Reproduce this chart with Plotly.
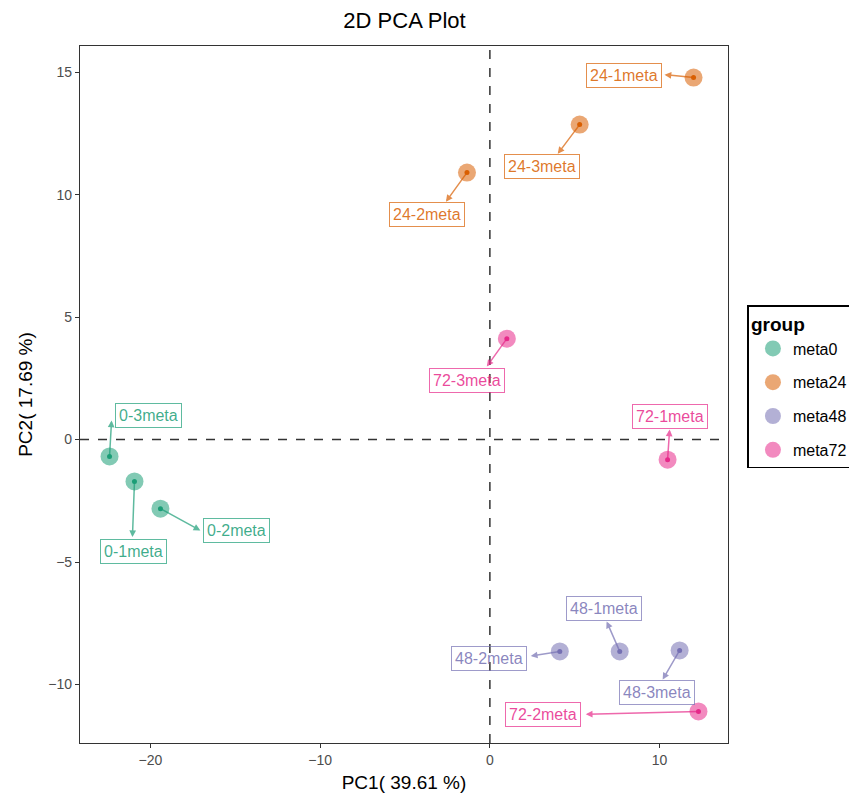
import plotly.graph_objects as go

# ---- data ----
samples = ["0-1meta", "0-2meta", "0-3meta",
           "24-1meta", "24-2meta", "24-3meta",
           "48-1meta", "48-2meta", "48-3meta",
           "72-1meta", "72-2meta", "72-3meta"]
groups = ["meta0", "meta0", "meta0",
          "meta24", "meta24", "meta24",
          "meta48", "meta48", "meta48",
          "meta72", "meta72", "meta72"]
pc1 = [-20.94, -19.41, -22.41,
       12.00, -1.35, 5.29,
       7.65, 4.12, 11.18,
       10.47, 12.29, 1.00]
pc2 = [-1.71, -2.82, -0.69,
       14.78, 10.90, 12.86,
       -8.65, -8.65, -8.61,
       -0.82, -11.10, 4.12]
group_order = ["meta0", "meta24", "meta48", "meta72"]

# repelled label positions (data units)
label_x = [-21.0, -14.94, -20.12,
           7.88, -3.71, 3.06,
           6.71, -0.06, 9.82,
           10.59, 3.12, -1.35]
label_y = [-4.57, -3.71, 0.98,
           14.86, 9.18, 11.14,
           -6.90, -8.94, -10.33,
           0.94, -11.22, 2.41]
# where each repel segment meets its label box (data units)
seg_end_x = [-21.06, -17.06, -22.29,
             10.29, -2.59, 4.00,
             6.88, 2.41, 10.18,
             10.59, 5.65, -0.18]
seg_end_y = [-3.98, -3.71, 0.78,
             14.90, 9.71, 11.67,
             -7.43, -8.84, -9.80,
             0.41, -11.22, 2.98]

# ---- styles ----
colors = {"meta0": (27, 158, 119), "meta24": (217, 95, 2),
          "meta48": (117, 112, 179), "meta72": (231, 41, 138)}


def rgba(c, a):
    return "rgba(%d,%d,%d,%s)" % (c[0], c[1], c[2], a)


FONT = "Liberation Sans, Arial, sans-serif"
W, H = 849, 790  # page body has an 8px margin

fig = go.Figure()

for g in group_order:
    idx = [i for i, gg in enumerate(groups) if gg == g]
    c = colors[g]
    # translucent outer disc (legend)
    fig.add_trace(go.Scatter(
        x=[pc1[i] for i in idx], y=[pc2[i] for i in idx],
        mode="markers", name=g, legendgroup=g,
        marker=dict(size=18, color=rgba(c, 0.55), line=dict(width=0)),
        hoverinfo="skip"))
    # solid center dot
    fig.add_trace(go.Scatter(
        x=[pc1[i] for i in idx], y=[pc2[i] for i in idx],
        mode="markers", name=g, legendgroup=g, showlegend=False,
        marker=dict(size=5, color=rgba(c, 1), line=dict(width=0)),
        text=[samples[i] for i in idx], hoverinfo="text"))

# segments from point to label (arrowhead at the label end)
for i, s in enumerate(samples):
    c = colors[groups[i]]
    fig.add_annotation(
        x=seg_end_x[i], y=seg_end_y[i], ax=pc1[i], ay=pc2[i],
        xref="x", yref="y", axref="x", ayref="y",
        text=" ", font=dict(size=1), showarrow=True,
        arrowhead=2, arrowsize=0.9, arrowwidth=1.5,
        arrowcolor=rgba(c, 0.7), standoff=0,
        bgcolor="rgba(0,0,0,0)", borderwidth=0, borderpad=0)

# label boxes
for i, s in enumerate(samples):
    c = colors[groups[i]]
    fig.add_annotation(
        x=label_x[i], y=label_y[i], xref="x", yref="y",
        text=s, showarrow=False,
        font=dict(family=FONT, size=16, color=rgba(c, 0.85)),
        bgcolor="rgba(255,255,255,0)",
        bordercolor=rgba(c, 0.7), borderwidth=1, borderpad=3)

# reference lines
fig.add_hline(y=0, line=dict(color="#333333", width=1.5, dash="dash"), layer="above")
fig.add_vline(x=0, line=dict(color="#333333", width=1.5, dash="dash"), layer="above")

fig.update_layout(
    width=W, height=H,
    margin=dict(l=72, r=129, t=38, b=55, autoexpand=False),
    plot_bgcolor="white", paper_bgcolor="white",
    font=dict(family=FONT, color="#000000"),
    title=dict(text="2D PCA Plot", x=(404.5 - 8) / W, xanchor="center",
               y=1 - 12 / H, yanchor="middle",
               font=dict(size=22, family=FONT, color="#000000")),
    legend=dict(
        title=dict(text="<b>group</b>", font=dict(size=19, family=FONT)),
        font=dict(size=16, family=FONT),
        x=1.03, xanchor="left", y=0.628, yanchor="top",
        bordercolor="#000000", borderwidth=1.5, bgcolor="white",
        tracegroupgap=10, itemsizing="trace", indentation=4),
    showlegend=True,
)

axis_common = dict(
    showgrid=False, zeroline=False, automargin=False,
    showline=True, mirror=True, linecolor="#333333", linewidth=1.2,
    ticks="outside", ticklen=4, tickcolor="#333333", tickwidth=1,
    tickfont=dict(size=14, family=FONT, color="#4d4d4d"),
)
fig.update_xaxes(range=[-24.15, 14.03], tickvals=[-20, -10, 0, 10],
                 title=dict(text="PC1( 39.61 %)", font=dict(size=19, family=FONT), standoff=8),
                 **axis_common)
fig.update_yaxes(range=[-12.39, 16.07], tickvals=[-10, -5, 0, 5, 10, 15],
                 title=dict(text="PC2( 17.69 %)", font=dict(size=19, family=FONT), standoff=10),
                 **axis_common)

fig.write_html("out.html")
